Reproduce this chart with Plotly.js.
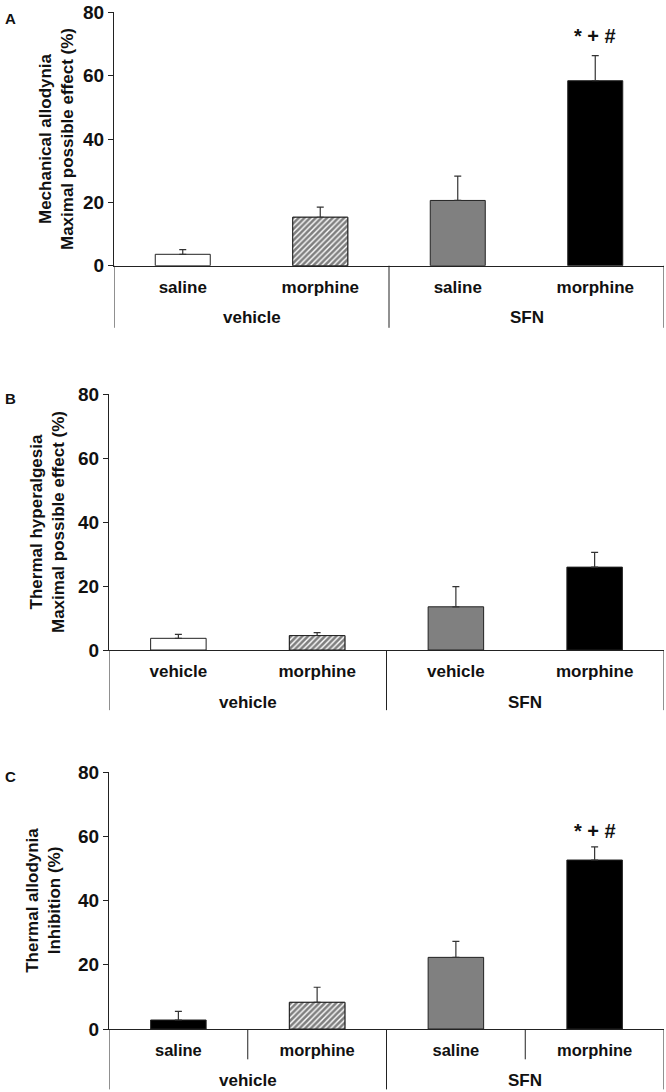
<!DOCTYPE html>
<html>
<head>
<meta charset="utf-8">
<script src="https://cdn.plot.ly/plotly-3.0.1.min.js"></script>
<style>html,body{margin:0;padding:0;background:#fff;}#chart{width:666px;height:1092px;}</style>
</head>
<body>
<div id="chart"></div>
<script>
// ---- data ----
const catsA = ["saline", "morphine", "saline", "morphine"];
const catsB = ["vehicle", "morphine", "vehicle", "morphine"];
const catsC = ["saline", "morphine", "saline", "morphine"];
const groups = ["vehicle", "SFN"];
const meanA = [3.6, 15.3, 20.6, 58.4];
const semA  = [1.5, 3.2, 7.7, 7.9];
const meanB = [3.65, 4.5, 13.5, 25.9];
const semB  = [1.25, 0.9, 6.3, 4.6];
const meanC = [2.8, 8.3, 22.3, 52.6];
const semC  = [2.7, 4.7, 5.0, 4.1];
const sigLabel = "* + #";
const sigA = 72.5;
const sigC = 61.5;
const titleA = "Mechanical allodynia<br>Maximal possible effect (%)";
const titleB = "Thermal hyperalgesia<br>Maximal possible effect (%)";
const titleC = "Thermal allodynia<br>Inhibition (%)";
const yTicks = [0, 20, 40, 60, 80];

// ---- styling ----
const idx = [0, 1, 2, 3];
const hatchIdx = 1;
const fillsAB = ["#ffffff", "#ffffff", "#808080", "#000000"];
const fillsC  = ["#000000", "#ffffff", "#808080", "#000000"];
const narrow = "Liberation Sans Narrow, Arial Narrow, Liberation Sans, Arial, sans-serif";
const sans = "Liberation Sans, Arial, sans-serif";

function barTraces(vals, errs, fills, xa, ya) {
  return [{
    type: "bar", x: idx, y: vals, width: 0.4,
    xaxis: xa, yaxis: ya,
    marker: {color: fills, line: {color: "#222", width: 1}},
    error_y: {type: "data", symmetric: false, array: errs, arrayminus: [0,0,0,0], color: "#333", thickness: 1.2, width: 3.5},
    showlegend: false, hoverinfo: "skip"
  }, {
    type: "bar", x: [idx[hatchIdx]], y: [vals[hatchIdx]], width: 0.4,
    xaxis: xa, yaxis: ya,
    marker: {color: "#ffffff", line: {color: "#222", width: 1},
      pattern: {shape: "/", fgcolor: "#000000", bgcolor: "#ffffff", size: 4, solidity: 0.65, fillmode: "overlay"}},
    showlegend: false, hoverinfo: "skip"
  }];
}

const data = [].concat(
  barTraces(meanA, semA, fillsAB, "x", "y"),
  barTraces(meanB, semB, fillsAB, "x2", "y2"),
  barTraces(meanC, semC, fillsC, "x3", "y3")
);

function xax(domain, labels, anchor, fam, size) {
  return {
    domain: domain, anchor: anchor, range: [-0.5, 3.5],
    tickvals: idx, ticktext: labels, ticks: "", showgrid: false, zeroline: false,
    showline: true, linecolor: "#222", linewidth: 1, ticklabelstandoff: 6,
    tickfont: {family: fam, size: size, color: "#111", weight: "bold"},
    fixedrange: true
  };
}
function yax(domain, anchor, title, standoff) {
  return {
    domain: domain, anchor: anchor, range: [0, 80], tickvals: yTicks,
    ticks: "outside", ticklen: 5, tickcolor: "#222", showgrid: false, zeroline: false,
    showline: true, linecolor: "#222", linewidth: 1,
    tickfont: {family: narrow, size: 19, color: "#111", weight: "bold"},
    title: {text: title, font: {family: sans, size: 17, color: "#111", weight: "bold"}, standoff: standoff},
    fixedrange: true
  };
}

const W = 666, H = 1092;
const px = v => v / W;
const py = v => 1 - v / H;

const layout = {
  width: W, height: H,
  margin: {l: 0, r: 0, t: 0, b: 0},
  paper_bgcolor: "#fff", plot_bgcolor: "rgba(0,0,0,0)",
  barmode: "overlay",
  xaxis:  xax([px(114), px(664)], catsA, "y", sans, 17),
  yaxis:  yax([py(265.7), py(12.3)], "x", titleA, 5),
  xaxis2: xax([px(109), px(664)], catsB, "y2", sans, 17),
  yaxis2: yax([py(650), py(394)], "x2", titleB, 9),
  xaxis3: xax([px(109), px(664)], catsC, "y3", sans, 16.5),
  yaxis3: yax([py(1029), py(772)], "x3", titleC, 13),
  shapes: [],
  annotations: []
};

const panels = [
  {xr: "x", yr: "y", yd: "y domain", depth: 0.245, groupY: -0.205, innerDiv: false, letter: "A", ly: 18, sig: sigA},
  {xr: "x2", yr: "y2", yd: "y2 domain", depth: 0.235, groupY: -0.205, innerDiv: false, letter: "B", ly: 398, sig: null},
  {xr: "x3", yr: "y3", yd: "y3 domain", depth: 0.235, groupY: -0.2, innerDiv: true, letter: "C", ly: 776, sig: sigC}
];
panels.forEach(p => {
  const line = {color: "#222", width: 1};
  [-0.5, 1.5, 3.5].forEach(xv => {
    layout.shapes.push({type: "line", xref: p.xr, yref: p.yd, x0: xv, x1: xv, y0: 0, y1: -p.depth, line: line});
  });
  if (p.innerDiv) {
    [0.5, 2.5].forEach(xv => {
      layout.shapes.push({type: "line", xref: p.xr, yref: p.yd, x0: xv, x1: xv, y0: 0, y1: -0.118, line: line});
    });
  }
  groups.forEach((g, i) => {
    layout.annotations.push({xref: p.xr, yref: p.yd, x: 0.5 + 2 * i, y: p.groupY, text: g, showarrow: false,
      yanchor: "middle", font: {family: sans, size: 17, color: "#111", weight: "bold"}});
  });
  layout.annotations.push({xref: "paper", yref: "paper", x: px(3), y: py(p.ly), xanchor: "left", yanchor: "middle",
    text: p.letter, showarrow: false, font: {family: sans, size: 15, color: "#111", weight: "bold"}});
  if (p.sig !== null) {
    layout.annotations.push({xref: p.xr, yref: p.yr, x: 3, y: p.sig, text: sigLabel, showarrow: false,
      font: {family: sans, size: 20, color: "#111", weight: "bold"}});
  }
});

Plotly.newPlot("chart", data, layout, {displayModeBar: false, staticPlot: true});
</script>
</body>
</html>
